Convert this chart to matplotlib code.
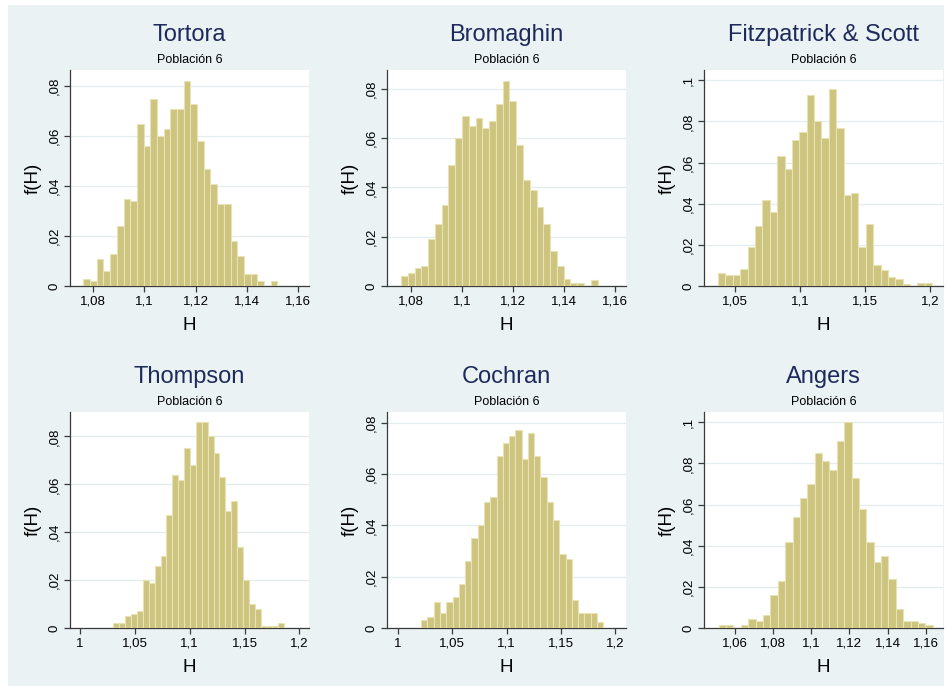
import numpy as np
import matplotlib
matplotlib.use("Agg")
import matplotlib.pyplot as plt
from matplotlib.patches import Rectangle
from matplotlib.ticker import FuncFormatter

plt.rcParams['font.family'] = ['Liberation Sans', 'DejaVu Sans']

# density heights per bin, first bin edge and bin width for each estimator
names = ["Tortora", "Bromaghin", "Fitzpatrick & Scott", "Thompson", "Cochran", "Angers"]

tortora = [.003, .002, .011, .006, .013, .024, .035, .034, .065, .056, .075, .060, .063, .071, .071,
           .082, .073, .058, .047, .041, .033, .033, .018, .012, .005, .005, .002, 0, .002]
bromaghin = [.0042, .0053, .0072, .0082, .019, .025, .033, .049, .060, .069, .065, .068, .064, .067, .074,
             .083, .075, .057, .043, .039, .032, .025, .014, .008, .003, .0013, .0013, 0, .0024]
fitzpatrick = [.0063, .0052, .0052, .0081, .019, .029, .042, .036, .063, .057, .071, .075, .093, .080, .072,
               .096, .077, .044, .045, .019, .030, .010, .008, .0042, .0032, .0011, 0, .0013, .0013]
thompson = [.0021, .0021, .005, .006, .007, .020, .019, .026, .030, .047, .064, .062, .075, .068, .086,
            .086, .080, .073, .063, .049, .053, .034, .020, .010, .008, .001, .001, .001, .002]
cochran = [.003, .0043, .010, .006, .010, .012, .017, .026, .035, .040, .049, .051, .067, .072, .075,
           .077, .066, .076, .067, .059, .049, .042, .029, .027, .011, .006, .006, .006, .0022]
angers = [.0013, .0013, 0, .0013, .0042, .0034, .0063, .016, .023, .042, .054, .063, .070, .085, .081,
          .077, .091, .100, .073, .058, .042, .032, .035, .024, .009, .0034, .0034, .0023, .0013]

heights = [tortora, bromaghin, fitzpatrick, thompson, cochran, angers]
bin_start = [1.0764, 1.0760, 1.0370, 1.0305, 1.0214, 1.0517]
bin_width = [0.0026, 0.00266, 0.00567, 0.00537, 0.00578, 0.00386]

x_ticks = [[1.08, 1.10, 1.12, 1.14, 1.16], [1.08, 1.10, 1.12, 1.14, 1.16],
           [1.05, 1.10, 1.15, 1.20], [1.0, 1.05, 1.10, 1.15, 1.20],
           [1.0, 1.05, 1.10, 1.15, 1.20], [1.06, 1.08, 1.10, 1.12, 1.14, 1.16]]
y_ticks = [[0, .02, .04, .06, .08], [0, .02, .04, .06, .08], [0, .02, .04, .06, .08, .1],
           [0, .02, .04, .06, .08], [0, .02, .04, .06, .08], [0, .02, .04, .06, .08, .1]]
x_lims = [(1.0712, 1.1641), (1.0705, 1.1643), (1.0262, 1.2097),
          (0.9909, 1.2088), (0.9899, 1.2100), (1.0440, 1.1690)]
y_tops = [0.0865, 0.0876, 0.105, 0.0902, 0.0842, 0.105]


def stata_num(v, pos=None):
    s = ("%.2f" % v).rstrip("0").rstrip(".")
    if s.startswith("0."):
        s = s[1:]
    return s.replace(".", ",")


W, H = 947, 686
fig = plt.figure(figsize=(W / 100, H / 100), dpi=100, facecolor="white")
fig.patches.append(Rectangle((8 / W, 0), (944 - 8) / W, (686 - 5) / H,
                             transform=fig.transFigure, facecolor="#EAF2F3",
                             edgecolor="none", zorder=-10))

lefts = [70, 387, 704]
tops = [70, 412]
axw, axh = 239, 216
bar_color = "#CCC47F"
edge_color = "#E8E2B4"
axis_color = "#3A3A3A"

for i, name in enumerate(names):
    r, c = divmod(i, 3)
    left, top = lefts[c], tops[r]
    ax = fig.add_axes([left / W, 1 - (top + axh) / H, axw / W, axh / H])
    ax.set_facecolor("white")

    hs = np.array(heights[i])
    edges = bin_start[i] + bin_width[i] * np.arange(len(hs))
    ax.bar(edges, hs, width=bin_width[i], align="edge", color=bar_color,
           edgecolor=edge_color, linewidth=0.8, zorder=3)

    ax.set_xlim(*x_lims[i])
    ax.set_ylim(0, y_tops[i])
    ax.set_xticks(x_ticks[i])
    ax.set_yticks(y_ticks[i])
    ax.xaxis.set_major_formatter(FuncFormatter(stata_num))
    ax.yaxis.set_major_formatter(FuncFormatter(stata_num))
    ax.grid(axis="y", color="#E3EDEF", linewidth=0.9, zorder=0)
    ax.tick_params(axis="both", direction="out", length=4, width=0.9,
                   color=axis_color, labelsize=9.5, pad=3)
    ax.tick_params(axis="y", labelrotation=90)
    for lbl in ax.get_yticklabels():
        lbl.set_va("center")
    for side in ["top", "right"]:
        ax.spines[side].set_visible(False)
    for side in ["left", "bottom"]:
        ax.spines[side].set_color(axis_color)
        ax.spines[side].set_linewidth(0.9)

    ax.set_ylabel("f(H)", fontsize=13.5, labelpad=5)
    ax.set_xlabel("H", fontsize=13.5, labelpad=7)
    ax.text(0.5, 1 + 35 / axh, name, transform=ax.transAxes, ha="center",
            va="center", fontsize=17, color="#1E2A5C")
    ax.text(0.5, 1 + 10 / axh, "Población 6", transform=ax.transAxes,
            ha="center", va="center", fontsize=9, color="black")

fig.savefig("out.png", dpi=100, facecolor=fig.get_facecolor())
